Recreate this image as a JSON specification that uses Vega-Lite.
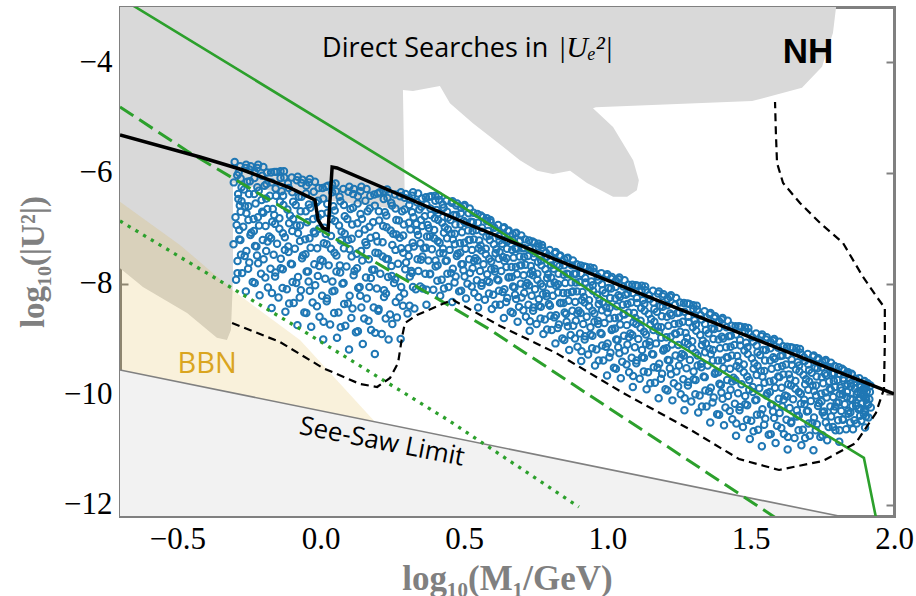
{
"$schema":"https://vega.github.io/schema/vega-lite/v6.json",
"width":774,"height":509,
"autosize":{"type":"none"},
"padding":{"left":120,"top":7,"right":22,"bottom":80},
"background":"white",
"config":{"view":{"stroke":null},
"axis":{"grid":false,"domainColor":"#808080","domainWidth":3,"domainCap":"square","tickColor":"#808080","tickWidth":2,"tickSize":-8,"labelFont":"Liberation Serif","labelFontSize":31,"labelColor":"#000000","titleFont":"Liberation Serif","titleFontSize":32,"titleFontWeight":"bold","titleColor":"#808080","labelOverlap":false,"labelFlush":false,"labelBound":false,"zindex":1}},
"datasets":{
"seesawFill":[{"i":0,"x":-0.7,"y":-9.561},{"i":1,"x":1.808,"y":-12.2},{"i":2,"x":-0.7,"y":-12.2}],
"seesawLine":[{"i":0,"x":-0.7,"y":-9.561},{"i":1,"x":1.85,"y":-12.245}],
"gray":[{"i":0,"x":-0.7,"y":-3.0},{"i":1,"x":1.798,"y":-3.0},{"i":2,"x":1.787,"y":-3.47},{"i":3,"x":1.749,"y":-4.08},{"i":4,"x":1.679,"y":-4.46},{"i":5,"x":1.505,"y":-4.70},{"i":6,"x":0.960,"y":-4.81},{"i":7,"x":0.950,"y":-4.83},{"i":8,"x":1.020,"y":-5.17},{"i":9,"x":1.090,"y":-5.77},{"i":10,"x":1.110,"y":-6.13},{"i":11,"x":1.103,"y":-6.31},{"i":12,"x":1.069,"y":-6.43},{"i":13,"x":1.020,"y":-6.43},{"i":14,"x":0.929,"y":-6.18},{"i":15,"x":0.870,"y":-5.96},{"i":16,"x":0.810,"y":-6.02},{"i":17,"x":0.755,"y":-5.96},{"i":18,"x":0.695,"y":-5.77},{"i":19,"x":0.615,"y":-5.44},{"i":20,"x":0.531,"y":-5.10},{"i":21,"x":0.451,"y":-4.74},{"i":22,"x":0.416,"y":-4.43},{"i":23,"x":0.322,"y":-4.52},{"i":24,"x":0.287,"y":-4.50},{"i":25,"x":0.294,"y":-6.67},{"i":26,"x":-0.072,"y":-6.43},{"i":27,"x":-0.306,"y":-6.18},{"i":28,"x":-0.306,"y":-7.93},{"i":29,"x":-0.313,"y":-8.84},{"i":30,"x":-0.327,"y":-9.02},{"i":31,"x":-0.362,"y":-8.98},{"i":32,"x":-0.466,"y":-8.53},{"i":33,"x":-0.620,"y":-8.06},{"i":34,"x":-0.641,"y":-7.97},{"i":35,"x":-0.7,"y":-7.72}],
"bbn":[{"i":0,"x":-0.7,"y":-6.52},{"i":1,"x":-0.491,"y":-7.30},{"i":2,"x":-0.306,"y":-8.12},{"i":3,"x":-0.072,"y":-9.02},{"i":4,"x":0.19,"y":-10.50},{"i":5,"x":-0.7,"y":-9.561}],
"gsolid":[{"i":0,"x":-0.7,"y":-2.83},{"i":1,"x":0.486,"y":-6.58},{"i":2,"x":0.964,"y":-8.21},{"i":3,"x":1.895,"y":-11.15},{"i":4,"x":1.934,"y":-12.15},{"i":5,"x":1.94,"y":-12.3}],
"gdash":[{"i":0,"x":-0.7,"y":-4.807},{"i":1,"x":-0.466,"y":-5.603},{"i":2,"x":-0.072,"y":-6.813},{"i":3,"x":0.587,"y":-8.820},{"i":4,"x":1.588,"y":-12.236}],
"gdot":[{"i":0,"x":-0.7,"y":-6.868},{"i":1,"x":-0.083,"y":-8.784},{"i":2,"x":0.444,"y":-10.464},{"i":3,"x":0.901,"y":-12.037}],
"bsolid":[{"i":0,"x":-0.7,"y":-5.313},{"i":1,"x":-0.421,"y":-5.711},{"i":2,"x":-0.271,"y":-5.946},{"i":3,"x":-0.107,"y":-6.271},{"i":4,"x":-0.020,"y":-6.488},{"i":5,"x":-0.009,"y":-6.850},{"i":6,"x":0.008,"y":-6.994},{"i":7,"x":0.026,"y":-7.030},{"i":8,"x":0.040,"y":-5.892},{"i":9,"x":0.057,"y":-5.910},{"i":10,"x":0.521,"y":-6.940},{"i":11,"x":1.135,"y":-8.223},{"i":12,"x":2.0,"y":-9.994}],
"bdash":[{"i":0,"x":-0.309,"y":-8.711},{"i":1,"x":-0.142,"y":-9.055},{"i":2,"x":0.008,"y":-9.525},{"i":3,"x":0.137,"y":-9.814},{"i":4,"x":0.197,"y":-9.868},{"i":5,"x":0.242,"y":-9.705},{"i":6,"x":0.270,"y":-9.434},{"i":7,"x":0.284,"y":-8.964},{"i":8,"x":0.294,"y":-8.711},{"i":9,"x":0.336,"y":-8.567},{"i":10,"x":0.441,"y":-8.332},{"i":11,"x":0.462,"y":-8.296},{"i":12,"x":0.626,"y":-8.765},{"i":13,"x":0.821,"y":-9.253},{"i":14,"x":1.055,"y":-9.976},{"i":15,"x":1.285,"y":-10.627},{"i":16,"x":1.459,"y":-11.169},{"i":17,"x":1.599,"y":-11.368},{"i":18,"x":1.752,"y":-11.205},{"i":19,"x":1.867,"y":-10.880},{"i":20,"x":1.937,"y":-10.338},{"i":21,"x":1.965,"y":-9.904},{"i":22,"x":1.968,"y":-9.073},{"i":23,"x":1.968,"y":-8.440},{"i":24,"x":1.940,"y":-8.241},{"i":25,"x":1.892,"y":-7.880},{"i":26,"x":1.822,"y":-7.265},{"i":27,"x":1.742,"y":-6.904},{"i":28,"x":1.672,"y":-6.542},{"i":29,"x":1.613,"y":-6.181},{"i":30,"x":1.592,"y":-5.820},{"i":31,"x":1.588,"y":-5.277},{"i":32,"x":1.585,"y":-4.717}],
"pts":[
{"x":-0.300,"y":-5.80},{"x":-0.286,"y":-5.99},{"x":-0.303,"y":-6.17},{"x":-0.288,"y":-6.38},{"x":-0.282,"y":-6.59},{"x":-0.297,"y":-6.80},{"x":-0.284,"y":-7.03},{"x":-0.304,"y":-7.29},{"x":-0.290,"y":-7.59},{"x":-0.295,"y":-7.93},
{"x":-0.263,"y":-5.91},{"x":-0.279,"y":-6.10},{"x":-0.267,"y":-6.30},{"x":-0.276,"y":-6.51},{"x":-0.259,"y":-6.73},{"x":-0.270,"y":-6.97},{"x":-0.280,"y":-7.21},{"x":-0.265,"y":-7.50},{"x":-0.274,"y":-7.81},{"x":-0.261,"y":-8.14},
{"x":-0.244,"y":-5.88},{"x":-0.230,"y":-5.98},{"x":-0.247,"y":-6.15},{"x":-0.232,"y":-6.38},{"x":-0.252,"y":-6.60},{"x":-0.234,"y":-6.83},{"x":-0.242,"y":-7.08},{"x":-0.229,"y":-7.32},{"x":-0.249,"y":-7.62},{"x":-0.237,"y":-7.97},
{"x":-0.218,"y":-5.85},{"x":-0.204,"y":-6.05},{"x":-0.221,"y":-6.26},{"x":-0.206,"y":-6.49},{"x":-0.200,"y":-6.72},{"x":-0.215,"y":-6.95},{"x":-0.202,"y":-7.21},{"x":-0.222,"y":-7.49},{"x":-0.208,"y":-7.82},{"x":-0.213,"y":-8.21},
{"x":-0.173,"y":-5.99},{"x":-0.189,"y":-6.20},{"x":-0.177,"y":-6.41},{"x":-0.186,"y":-6.65},{"x":-0.169,"y":-6.88},{"x":-0.180,"y":-7.15},{"x":-0.190,"y":-7.41},{"x":-0.175,"y":-7.73},{"x":-0.184,"y":-8.07},{"x":-0.171,"y":-8.44},
{"x":-0.154,"y":-5.98},{"x":-0.140,"y":-6.09},{"x":-0.157,"y":-6.28},{"x":-0.142,"y":-6.52},{"x":-0.162,"y":-6.76},{"x":-0.144,"y":-7.01},{"x":-0.152,"y":-7.28},{"x":-0.139,"y":-7.55},{"x":-0.159,"y":-7.87},{"x":-0.147,"y":-8.25},
{"x":-0.128,"y":-5.97},{"x":-0.114,"y":-6.19},{"x":-0.131,"y":-6.41},{"x":-0.116,"y":-6.66},{"x":-0.110,"y":-6.91},{"x":-0.125,"y":-7.16},{"x":-0.112,"y":-7.43},{"x":-0.132,"y":-7.74},{"x":-0.118,"y":-8.10},{"x":-0.123,"y":-8.51},
{"x":-0.083,"y":-6.13},{"x":-0.099,"y":-6.35},{"x":-0.087,"y":-6.58},{"x":-0.096,"y":-6.83},{"x":-0.079,"y":-7.09},{"x":-0.090,"y":-7.37},{"x":-0.100,"y":-7.65},{"x":-0.085,"y":-7.99},{"x":-0.094,"y":-8.35},{"x":-0.081,"y":-8.75},
{"x":-0.064,"y":-6.12},{"x":-0.050,"y":-6.23},{"x":-0.067,"y":-6.43},{"x":-0.052,"y":-6.69},{"x":-0.072,"y":-6.95},{"x":-0.054,"y":-7.20},{"x":-0.062,"y":-7.49},{"x":-0.049,"y":-7.78},{"x":-0.069,"y":-8.12},{"x":-0.057,"y":-8.52},
{"x":-0.038,"y":-6.11},{"x":-0.024,"y":-6.34},{"x":-0.041,"y":-6.57},{"x":-0.026,"y":-6.83},{"x":-0.020,"y":-7.09},{"x":-0.035,"y":-7.35},{"x":-0.022,"y":-7.65},{"x":-0.042,"y":-7.96},{"x":-0.028,"y":-8.34},{"x":-0.033,"y":-8.78},
{"x":0.007,"y":-6.27},{"x":-0.009,"y":-6.50},{"x":0.003,"y":-6.74},{"x":-0.006,"y":-7.01},{"x":0.011,"y":-7.27},{"x":0.000,"y":-7.57},{"x":-0.010,"y":-7.86},{"x":0.005,"y":-8.22},{"x":-0.004,"y":-8.60},{"x":0.009,"y":-9.01},
{"x":0.026,"y":-6.23},{"x":0.040,"y":-6.35},{"x":0.023,"y":-6.56},{"x":0.038,"y":-6.83},{"x":0.018,"y":-7.10},{"x":0.036,"y":-7.37},{"x":0.028,"y":-7.67},{"x":0.041,"y":-7.96},{"x":0.021,"y":-8.32},{"x":0.033,"y":-8.74},
{"x":0.052,"y":-6.19},{"x":0.066,"y":-6.43},{"x":0.049,"y":-6.68},{"x":0.064,"y":-6.95},{"x":0.070,"y":-7.22},{"x":0.055,"y":-7.49},{"x":0.068,"y":-7.80},{"x":0.048,"y":-8.13},{"x":0.062,"y":-8.52},{"x":0.057,"y":-8.98},
{"x":0.097,"y":-6.34},{"x":0.081,"y":-6.58},{"x":0.093,"y":-6.83},{"x":0.084,"y":-7.10},{"x":0.101,"y":-7.38},{"x":0.090,"y":-7.69},{"x":0.080,"y":-7.99},{"x":0.095,"y":-8.36},{"x":0.086,"y":-8.76},{"x":0.099,"y":-9.19},
{"x":0.116,"y":-6.29},{"x":0.130,"y":-6.42},{"x":0.113,"y":-6.63},{"x":0.128,"y":-6.91},{"x":0.108,"y":-7.19},{"x":0.126,"y":-7.46},{"x":0.118,"y":-7.77},{"x":0.131,"y":-8.08},{"x":0.111,"y":-8.45},{"x":0.123,"y":-8.88},
{"x":0.142,"y":-6.25},{"x":0.156,"y":-6.50},{"x":0.139,"y":-6.74},{"x":0.154,"y":-7.02},{"x":0.160,"y":-7.30},{"x":0.145,"y":-7.58},{"x":0.158,"y":-7.89},{"x":0.138,"y":-8.22},{"x":0.152,"y":-8.63},{"x":0.147,"y":-9.09},
{"x":0.187,"y":-6.39},{"x":0.171,"y":-6.64},{"x":0.183,"y":-6.89},{"x":0.174,"y":-7.17},{"x":0.191,"y":-7.44},{"x":0.180,"y":-7.75},{"x":0.170,"y":-8.06},{"x":0.185,"y":-8.43},{"x":0.176,"y":-8.84},{"x":0.189,"y":-9.27},
{"x":0.206,"y":-6.35},{"x":0.220,"y":-6.47},{"x":0.203,"y":-6.69},{"x":0.218,"y":-6.96},{"x":0.198,"y":-7.24},{"x":0.216,"y":-7.51},{"x":0.208,"y":-7.82},{"x":0.221,"y":-8.12},{"x":0.201,"y":-8.49},{"x":0.213,"y":-8.91},
{"x":0.232,"y":-6.30},{"x":0.246,"y":-6.54},{"x":0.229,"y":-6.77},{"x":0.244,"y":-7.04},{"x":0.250,"y":-7.30},{"x":0.235,"y":-7.56},{"x":0.248,"y":-7.86},{"x":0.228,"y":-8.18},{"x":0.242,"y":-8.56},{"x":0.237,"y":-9.01},
{"x":0.277,"y":-6.42},{"x":0.261,"y":-6.64},{"x":0.273,"y":-6.86},{"x":0.264,"y":-7.11},{"x":0.281,"y":-7.36},{"x":0.270,"y":-7.64},{"x":0.260,"y":-7.92},{"x":0.275,"y":-8.25},{"x":0.266,"y":-8.61},{"x":0.279,"y":-9.00},
{"x":0.296,"y":-6.38},{"x":0.310,"y":-6.48},{"x":0.293,"y":-6.66},{"x":0.308,"y":-6.90},{"x":0.288,"y":-7.13},{"x":0.306,"y":-7.36},{"x":0.298,"y":-7.62},{"x":0.311,"y":-7.87},{"x":0.291,"y":-8.18},{"x":0.303,"y":-8.54},
{"x":0.322,"y":-6.35},{"x":0.336,"y":-6.53},{"x":0.319,"y":-6.71},{"x":0.334,"y":-6.92},{"x":0.340,"y":-7.12},{"x":0.325,"y":-7.33},{"x":0.338,"y":-7.56},{"x":0.318,"y":-7.81},{"x":0.332,"y":-8.10},{"x":0.327,"y":-8.45},
{"x":0.367,"y":-6.44},{"x":0.351,"y":-6.61},{"x":0.363,"y":-6.78},{"x":0.354,"y":-6.96},{"x":0.371,"y":-7.15},{"x":0.360,"y":-7.36},{"x":0.350,"y":-7.57},{"x":0.365,"y":-7.82},{"x":0.356,"y":-8.09},{"x":0.369,"y":-8.38},
{"x":0.386,"y":-6.42},{"x":0.400,"y":-6.50},{"x":0.383,"y":-6.64},{"x":0.398,"y":-6.82},{"x":0.378,"y":-7.00},{"x":0.396,"y":-7.18},{"x":0.388,"y":-7.38},{"x":0.401,"y":-7.58},{"x":0.381,"y":-7.83},{"x":0.393,"y":-8.11},
{"x":0.412,"y":-6.41},{"x":0.426,"y":-6.57},{"x":0.409,"y":-6.73},{"x":0.424,"y":-6.90},{"x":0.430,"y":-7.08},{"x":0.415,"y":-7.26},{"x":0.428,"y":-7.45},{"x":0.408,"y":-7.67},{"x":0.422,"y":-7.93},{"x":0.417,"y":-8.22},
{"x":0.457,"y":-6.54},{"x":0.441,"y":-6.70},{"x":0.453,"y":-6.85},{"x":0.444,"y":-7.02},{"x":0.461,"y":-7.20},{"x":0.450,"y":-7.39},{"x":0.440,"y":-7.58},{"x":0.455,"y":-7.81},{"x":0.446,"y":-8.06},{"x":0.459,"y":-8.33},
{"x":0.476,"y":-6.55},{"x":0.490,"y":-6.63},{"x":0.473,"y":-6.76},{"x":0.488,"y":-6.93},{"x":0.468,"y":-7.10},{"x":0.486,"y":-7.27},{"x":0.478,"y":-7.46},{"x":0.491,"y":-7.65},{"x":0.471,"y":-7.87},{"x":0.483,"y":-8.14},
{"x":0.502,"y":-6.58},{"x":0.516,"y":-6.73},{"x":0.499,"y":-6.87},{"x":0.514,"y":-7.04},{"x":0.520,"y":-7.21},{"x":0.505,"y":-7.37},{"x":0.518,"y":-7.56},{"x":0.498,"y":-7.76},{"x":0.512,"y":-8.00},{"x":0.507,"y":-8.27},
{"x":0.547,"y":-6.74},{"x":0.531,"y":-6.89},{"x":0.543,"y":-7.03},{"x":0.534,"y":-7.20},{"x":0.551,"y":-7.36},{"x":0.540,"y":-7.54},{"x":0.530,"y":-7.72},{"x":0.545,"y":-7.94},{"x":0.536,"y":-8.17},{"x":0.549,"y":-8.43},
{"x":0.566,"y":-6.80},{"x":0.580,"y":-6.87},{"x":0.563,"y":-6.99},{"x":0.578,"y":-7.15},{"x":0.558,"y":-7.31},{"x":0.576,"y":-7.47},{"x":0.568,"y":-7.65},{"x":0.581,"y":-7.83},{"x":0.561,"y":-8.04},{"x":0.573,"y":-8.29},
{"x":0.592,"y":-6.85},{"x":0.606,"y":-6.99},{"x":0.589,"y":-7.13},{"x":0.604,"y":-7.29},{"x":0.610,"y":-7.45},{"x":0.595,"y":-7.60},{"x":0.608,"y":-7.78},{"x":0.588,"y":-7.97},{"x":0.602,"y":-8.20},{"x":0.597,"y":-8.46},
{"x":0.637,"y":-7.00},{"x":0.621,"y":-7.14},{"x":0.633,"y":-7.28},{"x":0.624,"y":-7.43},{"x":0.641,"y":-7.59},{"x":0.630,"y":-7.77},{"x":0.620,"y":-7.94},{"x":0.635,"y":-8.15},{"x":0.626,"y":-8.38},{"x":0.639,"y":-8.62},
{"x":0.656,"y":-7.04},{"x":0.670,"y":-7.11},{"x":0.653,"y":-7.23},{"x":0.668,"y":-7.39},{"x":0.648,"y":-7.54},{"x":0.666,"y":-7.70},{"x":0.658,"y":-7.88},{"x":0.671,"y":-8.05},{"x":0.651,"y":-8.26},{"x":0.663,"y":-8.51},
{"x":0.682,"y":-7.08},{"x":0.696,"y":-7.22},{"x":0.679,"y":-7.36},{"x":0.694,"y":-7.51},{"x":0.700,"y":-7.67},{"x":0.685,"y":-7.83},{"x":0.698,"y":-8.00},{"x":0.678,"y":-8.20},{"x":0.692,"y":-8.42},{"x":0.687,"y":-8.69},
{"x":0.727,"y":-7.22},{"x":0.711,"y":-7.36},{"x":0.723,"y":-7.50},{"x":0.714,"y":-7.66},{"x":0.731,"y":-7.82},{"x":0.720,"y":-7.99},{"x":0.710,"y":-8.17},{"x":0.725,"y":-8.38},{"x":0.716,"y":-8.60},{"x":0.729,"y":-8.85},
{"x":0.746,"y":-7.26},{"x":0.760,"y":-7.33},{"x":0.743,"y":-7.45},{"x":0.758,"y":-7.61},{"x":0.738,"y":-7.77},{"x":0.756,"y":-7.93},{"x":0.748,"y":-8.10},{"x":0.761,"y":-8.28},{"x":0.741,"y":-8.49},{"x":0.753,"y":-8.73},
{"x":0.772,"y":-7.30},{"x":0.786,"y":-7.44},{"x":0.769,"y":-7.58},{"x":0.784,"y":-7.74},{"x":0.790,"y":-7.90},{"x":0.775,"y":-8.05},{"x":0.788,"y":-8.23},{"x":0.768,"y":-8.42},{"x":0.782,"y":-8.65},{"x":0.777,"y":-8.91},
{"x":0.817,"y":-7.45},{"x":0.801,"y":-7.59},{"x":0.813,"y":-7.73},{"x":0.804,"y":-7.89},{"x":0.821,"y":-8.04},{"x":0.810,"y":-8.22},{"x":0.800,"y":-8.40},{"x":0.815,"y":-8.61},{"x":0.806,"y":-8.84},{"x":0.819,"y":-9.08},
{"x":0.836,"y":-7.49},{"x":0.850,"y":-7.56},{"x":0.833,"y":-7.68},{"x":0.848,"y":-7.84},{"x":0.828,"y":-8.01},{"x":0.846,"y":-8.17},{"x":0.838,"y":-8.35},{"x":0.851,"y":-8.52},{"x":0.831,"y":-8.74},{"x":0.843,"y":-8.99},
{"x":0.862,"y":-7.53},{"x":0.876,"y":-7.67},{"x":0.859,"y":-7.82},{"x":0.874,"y":-7.98},{"x":0.880,"y":-8.14},{"x":0.865,"y":-8.31},{"x":0.878,"y":-8.49},{"x":0.858,"y":-8.69},{"x":0.872,"y":-8.93},{"x":0.867,"y":-9.20},
{"x":0.907,"y":-7.67},{"x":0.891,"y":-7.82},{"x":0.903,"y":-7.97},{"x":0.894,"y":-8.14},{"x":0.911,"y":-8.30},{"x":0.900,"y":-8.49},{"x":0.890,"y":-8.67},{"x":0.905,"y":-8.90},{"x":0.896,"y":-9.14},{"x":0.909,"y":-9.40},
{"x":0.926,"y":-7.70},{"x":0.940,"y":-7.77},{"x":0.923,"y":-7.90},{"x":0.938,"y":-8.07},{"x":0.918,"y":-8.24},{"x":0.936,"y":-8.41},{"x":0.928,"y":-8.60},{"x":0.941,"y":-8.79},{"x":0.921,"y":-9.01},{"x":0.933,"y":-9.28},
{"x":0.952,"y":-7.72},{"x":0.966,"y":-7.87},{"x":0.949,"y":-8.03},{"x":0.964,"y":-8.20},{"x":0.970,"y":-8.37},{"x":0.955,"y":-8.54},{"x":0.968,"y":-8.73},{"x":0.948,"y":-8.94},{"x":0.962,"y":-9.19},{"x":0.957,"y":-9.48},
{"x":0.997,"y":-7.86},{"x":0.981,"y":-8.01},{"x":0.993,"y":-8.17},{"x":0.984,"y":-8.34},{"x":1.001,"y":-8.52},{"x":0.990,"y":-8.71},{"x":0.980,"y":-8.91},{"x":0.995,"y":-9.14},{"x":0.986,"y":-9.39},{"x":0.999,"y":-9.66},
{"x":1.016,"y":-7.88},{"x":1.030,"y":-7.95},{"x":1.013,"y":-8.09},{"x":1.028,"y":-8.27},{"x":1.008,"y":-8.44},{"x":1.026,"y":-8.62},{"x":1.018,"y":-8.82},{"x":1.031,"y":-9.01},{"x":1.011,"y":-9.25},{"x":1.023,"y":-9.52},
{"x":1.042,"y":-7.89},{"x":1.056,"y":-8.05},{"x":1.039,"y":-8.21},{"x":1.054,"y":-8.38},{"x":1.060,"y":-8.56},{"x":1.045,"y":-8.74},{"x":1.058,"y":-8.94},{"x":1.038,"y":-9.15},{"x":1.052,"y":-9.41},{"x":1.047,"y":-9.71},
{"x":1.087,"y":-8.02},{"x":1.071,"y":-8.18},{"x":1.083,"y":-8.34},{"x":1.074,"y":-8.52},{"x":1.091,"y":-8.70},{"x":1.080,"y":-8.90},{"x":1.070,"y":-9.10},{"x":1.085,"y":-9.34},{"x":1.076,"y":-9.60},{"x":1.089,"y":-9.87},
{"x":1.106,"y":-8.04},{"x":1.120,"y":-8.12},{"x":1.103,"y":-8.26},{"x":1.118,"y":-8.44},{"x":1.098,"y":-8.62},{"x":1.116,"y":-8.80},{"x":1.108,"y":-9.00},{"x":1.121,"y":-9.20},{"x":1.101,"y":-9.44},{"x":1.113,"y":-9.72},
{"x":1.132,"y":-8.05},{"x":1.146,"y":-8.21},{"x":1.129,"y":-8.37},{"x":1.144,"y":-8.55},{"x":1.150,"y":-8.74},{"x":1.135,"y":-8.92},{"x":1.148,"y":-9.12},{"x":1.128,"y":-9.34},{"x":1.142,"y":-9.60},{"x":1.137,"y":-9.91},
{"x":1.177,"y":-8.18},{"x":1.161,"y":-8.34},{"x":1.173,"y":-8.51},{"x":1.164,"y":-8.69},{"x":1.181,"y":-8.87},{"x":1.170,"y":-9.08},{"x":1.160,"y":-9.28},{"x":1.175,"y":-9.52},{"x":1.166,"y":-9.79},{"x":1.179,"y":-10.07},
{"x":1.196,"y":-8.19},{"x":1.210,"y":-8.27},{"x":1.193,"y":-8.42},{"x":1.208,"y":-8.60},{"x":1.188,"y":-8.79},{"x":1.206,"y":-8.97},{"x":1.198,"y":-9.18},{"x":1.211,"y":-9.38},{"x":1.191,"y":-9.63},{"x":1.203,"y":-9.91},
{"x":1.222,"y":-8.21},{"x":1.236,"y":-8.38},{"x":1.219,"y":-8.54},{"x":1.234,"y":-8.73},{"x":1.240,"y":-8.91},{"x":1.225,"y":-9.10},{"x":1.238,"y":-9.30},{"x":1.218,"y":-9.53},{"x":1.232,"y":-9.80},{"x":1.227,"y":-10.11},
{"x":1.267,"y":-8.35},{"x":1.251,"y":-8.52},{"x":1.263,"y":-8.69},{"x":1.254,"y":-8.87},{"x":1.271,"y":-9.06},{"x":1.260,"y":-9.27},{"x":1.250,"y":-9.48},{"x":1.265,"y":-9.73},{"x":1.256,"y":-10.00},{"x":1.269,"y":-10.29},
{"x":1.286,"y":-8.37},{"x":1.300,"y":-8.46},{"x":1.283,"y":-8.60},{"x":1.298,"y":-8.79},{"x":1.278,"y":-8.98},{"x":1.296,"y":-9.17},{"x":1.288,"y":-9.38},{"x":1.301,"y":-9.59},{"x":1.281,"y":-9.84},{"x":1.293,"y":-10.13},
{"x":1.312,"y":-8.40},{"x":1.326,"y":-8.57},{"x":1.309,"y":-8.74},{"x":1.324,"y":-8.93},{"x":1.330,"y":-9.11},{"x":1.315,"y":-9.30},{"x":1.328,"y":-9.51},{"x":1.308,"y":-9.74},{"x":1.322,"y":-10.02},{"x":1.317,"y":-10.33},
{"x":1.357,"y":-8.56},{"x":1.341,"y":-8.73},{"x":1.353,"y":-8.90},{"x":1.344,"y":-9.08},{"x":1.361,"y":-9.27},{"x":1.350,"y":-9.48},{"x":1.340,"y":-9.69},{"x":1.355,"y":-9.95},{"x":1.346,"y":-10.22},{"x":1.359,"y":-10.51},
{"x":1.376,"y":-8.59},{"x":1.390,"y":-8.68},{"x":1.373,"y":-8.82},{"x":1.388,"y":-9.01},{"x":1.368,"y":-9.20},{"x":1.386,"y":-9.39},{"x":1.378,"y":-9.60},{"x":1.391,"y":-9.81},{"x":1.371,"y":-10.06},{"x":1.383,"y":-10.36},
{"x":1.402,"y":-8.62},{"x":1.416,"y":-8.79},{"x":1.399,"y":-8.96},{"x":1.414,"y":-9.15},{"x":1.420,"y":-9.34},{"x":1.405,"y":-9.53},{"x":1.418,"y":-9.74},{"x":1.398,"y":-9.97},{"x":1.412,"y":-10.24},{"x":1.407,"y":-10.56},
{"x":1.447,"y":-8.77},{"x":1.431,"y":-8.94},{"x":1.443,"y":-9.11},{"x":1.434,"y":-9.30},{"x":1.451,"y":-9.49},{"x":1.440,"y":-9.70},{"x":1.430,"y":-9.92},{"x":1.445,"y":-10.17},{"x":1.436,"y":-10.45},{"x":1.449,"y":-10.75},
{"x":1.466,"y":-8.78},{"x":1.480,"y":-8.87},{"x":1.463,"y":-9.02},{"x":1.478,"y":-9.21},{"x":1.458,"y":-9.41},{"x":1.476,"y":-9.60},{"x":1.468,"y":-9.82},{"x":1.481,"y":-10.03},{"x":1.461,"y":-10.29},{"x":1.473,"y":-10.59},
{"x":1.492,"y":-8.80},{"x":1.506,"y":-8.97},{"x":1.489,"y":-9.15},{"x":1.504,"y":-9.35},{"x":1.510,"y":-9.54},{"x":1.495,"y":-9.74},{"x":1.508,"y":-9.96},{"x":1.488,"y":-10.20},{"x":1.502,"y":-10.48},{"x":1.497,"y":-10.81},
{"x":1.537,"y":-8.95},{"x":1.521,"y":-9.12},{"x":1.533,"y":-9.29},{"x":1.524,"y":-9.49},{"x":1.541,"y":-9.68},{"x":1.530,"y":-9.89},{"x":1.520,"y":-10.10},{"x":1.535,"y":-10.36},{"x":1.526,"y":-10.64},{"x":1.539,"y":-10.94},
{"x":1.556,"y":-8.97},{"x":1.570,"y":-9.06},{"x":1.553,"y":-9.20},{"x":1.568,"y":-9.39},{"x":1.548,"y":-9.58},{"x":1.566,"y":-9.77},{"x":1.558,"y":-9.98},{"x":1.571,"y":-10.19},{"x":1.551,"y":-10.44},{"x":1.563,"y":-10.73},
{"x":1.582,"y":-9.00},{"x":1.596,"y":-9.16},{"x":1.579,"y":-9.33},{"x":1.594,"y":-9.51},{"x":1.600,"y":-9.69},{"x":1.585,"y":-9.88},{"x":1.598,"y":-10.08},{"x":1.578,"y":-10.31},{"x":1.592,"y":-10.57},{"x":1.587,"y":-10.88},
{"x":1.627,"y":-9.14},{"x":1.611,"y":-9.30},{"x":1.623,"y":-9.46},{"x":1.614,"y":-9.64},{"x":1.631,"y":-9.82},{"x":1.620,"y":-10.02},{"x":1.610,"y":-10.22},{"x":1.625,"y":-10.46},{"x":1.616,"y":-10.72},{"x":1.629,"y":-11.00},
{"x":1.646,"y":-9.16},{"x":1.660,"y":-9.24},{"x":1.643,"y":-9.37},{"x":1.658,"y":-9.55},{"x":1.638,"y":-9.72},{"x":1.656,"y":-9.90},{"x":1.648,"y":-10.09},{"x":1.661,"y":-10.29},{"x":1.641,"y":-10.52},{"x":1.653,"y":-10.79},
{"x":1.672,"y":-9.18},{"x":1.686,"y":-9.33},{"x":1.669,"y":-9.48},{"x":1.684,"y":-9.65},{"x":1.690,"y":-9.82},{"x":1.675,"y":-9.99},{"x":1.688,"y":-10.18},{"x":1.668,"y":-10.39},{"x":1.682,"y":-10.64},{"x":1.677,"y":-10.92},
{"x":1.717,"y":-9.32},{"x":1.701,"y":-9.46},{"x":1.713,"y":-9.61},{"x":1.704,"y":-9.77},{"x":1.721,"y":-9.94},{"x":1.710,"y":-10.12},{"x":1.700,"y":-10.30},{"x":1.715,"y":-10.52},{"x":1.706,"y":-10.75},{"x":1.719,"y":-11.01},
{"x":1.736,"y":-9.35},{"x":1.750,"y":-9.41},{"x":1.733,"y":-9.53},{"x":1.748,"y":-9.69},{"x":1.728,"y":-9.84},{"x":1.746,"y":-9.99},{"x":1.738,"y":-10.16},{"x":1.751,"y":-10.33},{"x":1.731,"y":-10.54},{"x":1.743,"y":-10.77},
{"x":1.762,"y":-9.38},{"x":1.776,"y":-9.51},{"x":1.759,"y":-9.63},{"x":1.774,"y":-9.77},{"x":1.780,"y":-9.92},{"x":1.765,"y":-10.06},{"x":1.778,"y":-10.22},{"x":1.758,"y":-10.39},{"x":1.772,"y":-10.59},{"x":1.767,"y":-10.83},
{"x":1.807,"y":-9.51},{"x":1.791,"y":-9.62},{"x":1.803,"y":-9.74},{"x":1.794,"y":-9.87},{"x":1.811,"y":-10.00},{"x":1.800,"y":-10.15},{"x":1.790,"y":-10.29},{"x":1.805,"y":-10.47},{"x":1.796,"y":-10.65},{"x":1.809,"y":-10.86},
{"x":1.826,"y":-9.57},{"x":1.840,"y":-9.62},{"x":1.823,"y":-9.71},{"x":1.838,"y":-9.82},{"x":1.818,"y":-9.93},{"x":1.836,"y":-10.05},{"x":1.828,"y":-10.18},{"x":1.841,"y":-10.30},{"x":1.821,"y":-10.45},{"x":1.833,"y":-10.63},
{"x":1.852,"y":-9.63},{"x":1.866,"y":-9.72},{"x":1.849,"y":-9.80},{"x":1.864,"y":-9.90},{"x":1.870,"y":-10.00},{"x":1.855,"y":-10.10},{"x":1.868,"y":-10.21},{"x":1.848,"y":-10.33},{"x":1.862,"y":-10.47},{"x":1.857,"y":-10.63},
{"x":1.897,"y":-9.76},{"x":1.881,"y":-9.83},{"x":1.893,"y":-9.90},{"x":1.884,"y":-9.98},{"x":1.901,"y":-10.07},{"x":1.890,"y":-10.16},{"x":1.880,"y":-10.25},{"x":1.895,"y":-10.36},{"x":1.886,"y":-10.48},{"x":1.899,"y":-10.60},
{"x":1.904,"y":-9.82},{"x":1.918,"y":-9.84},{"x":1.901,"y":-9.89},{"x":1.916,"y":-9.96},{"x":1.896,"y":-10.03},{"x":1.914,"y":-10.09},{"x":1.906,"y":-10.16},{"x":1.919,"y":-10.24},{"x":1.899,"y":-10.32},{"x":1.911,"y":-10.42},
{"x":-0.281,"y":-5.88},{"x":-0.291,"y":-6.04},{"x":-0.276,"y":-6.26},{"x":-0.287,"y":-6.47},{"x":-0.279,"y":-6.70},{"x":-0.293,"y":-6.94},{"x":-0.284,"y":-7.20},{"x":-0.278,"y":-7.48},{"x":-0.290,"y":-7.81},
{"x":-0.260,"y":-5.85},{"x":-0.247,"y":-5.94},{"x":-0.256,"y":-6.16},{"x":-0.250,"y":-6.38},{"x":-0.264,"y":-6.60},{"x":-0.252,"y":-6.85},{"x":-0.245,"y":-7.12},{"x":-0.259,"y":-7.41},{"x":-0.253,"y":-7.73},
{"x":-0.221,"y":-5.91},{"x":-0.231,"y":-6.09},{"x":-0.216,"y":-6.32},{"x":-0.227,"y":-6.55},{"x":-0.219,"y":-6.80},{"x":-0.233,"y":-7.05},{"x":-0.224,"y":-7.33},{"x":-0.218,"y":-7.63},{"x":-0.230,"y":-7.99},
{"x":-0.200,"y":-5.89},{"x":-0.187,"y":-5.99},{"x":-0.196,"y":-6.23},{"x":-0.190,"y":-6.46},{"x":-0.204,"y":-6.70},{"x":-0.192,"y":-6.96},{"x":-0.185,"y":-7.24},{"x":-0.199,"y":-7.56},{"x":-0.193,"y":-7.89},
{"x":-0.161,"y":-5.98},{"x":-0.171,"y":-6.17},{"x":-0.156,"y":-6.41},{"x":-0.167,"y":-6.65},{"x":-0.159,"y":-6.92},{"x":-0.173,"y":-7.18},{"x":-0.164,"y":-7.48},{"x":-0.158,"y":-7.80},{"x":-0.170,"y":-8.17},
{"x":-0.140,"y":-5.97},{"x":-0.127,"y":-6.08},{"x":-0.136,"y":-6.33},{"x":-0.130,"y":-6.58},{"x":-0.144,"y":-6.82},{"x":-0.132,"y":-7.09},{"x":-0.125,"y":-7.39},{"x":-0.139,"y":-7.72},{"x":-0.133,"y":-8.08},
{"x":-0.101,"y":-6.08},{"x":-0.111,"y":-6.27},{"x":-0.096,"y":-6.52},{"x":-0.107,"y":-6.77},{"x":-0.099,"y":-7.05},{"x":-0.113,"y":-7.33},{"x":-0.104,"y":-7.64},{"x":-0.098,"y":-7.97},{"x":-0.110,"y":-8.36},
{"x":-0.080,"y":-6.07},{"x":-0.067,"y":-6.18},{"x":-0.076,"y":-6.43},{"x":-0.070,"y":-6.69},{"x":-0.084,"y":-6.95},{"x":-0.072,"y":-7.23},{"x":-0.065,"y":-7.54},{"x":-0.079,"y":-7.88},{"x":-0.073,"y":-8.25},
{"x":-0.041,"y":-6.17},{"x":-0.051,"y":-6.37},{"x":-0.036,"y":-6.63},{"x":-0.047,"y":-6.89},{"x":-0.039,"y":-7.18},{"x":-0.053,"y":-7.47},{"x":-0.044,"y":-7.78},{"x":-0.038,"y":-8.13},{"x":-0.050,"y":-8.53},
{"x":-0.020,"y":-6.16},{"x":-0.007,"y":-6.27},{"x":-0.016,"y":-6.54},{"x":-0.010,"y":-6.80},{"x":-0.024,"y":-7.06},{"x":-0.012,"y":-7.36},{"x":-0.005,"y":-7.68},{"x":-0.019,"y":-8.03},{"x":-0.013,"y":-8.41},
{"x":0.019,"y":-6.25},{"x":0.009,"y":-6.46},{"x":0.024,"y":-6.72},{"x":0.013,"y":-6.99},{"x":0.021,"y":-7.29},{"x":0.007,"y":-7.59},{"x":0.016,"y":-7.91},{"x":0.022,"y":-8.27},{"x":0.010,"y":-8.69},
{"x":0.040,"y":-6.21},{"x":0.053,"y":-6.33},{"x":0.044,"y":-6.60},{"x":0.050,"y":-6.87},{"x":0.036,"y":-7.14},{"x":0.048,"y":-7.44},{"x":0.055,"y":-7.78},{"x":0.041,"y":-8.14},{"x":0.047,"y":-8.53},
{"x":0.079,"y":-6.29},{"x":0.069,"y":-6.51},{"x":0.084,"y":-6.78},{"x":0.073,"y":-7.06},{"x":0.081,"y":-7.36},{"x":0.067,"y":-7.67},{"x":0.076,"y":-8.00},{"x":0.082,"y":-8.37},{"x":0.070,"y":-8.79},
{"x":0.100,"y":-6.25},{"x":0.113,"y":-6.38},{"x":0.104,"y":-6.65},{"x":0.110,"y":-6.93},{"x":0.096,"y":-7.21},{"x":0.108,"y":-7.51},{"x":0.115,"y":-7.85},{"x":0.101,"y":-8.22},{"x":0.107,"y":-8.62},
{"x":0.139,"y":-6.33},{"x":0.129,"y":-6.55},{"x":0.144,"y":-6.83},{"x":0.133,"y":-7.10},{"x":0.141,"y":-7.41},{"x":0.127,"y":-7.72},{"x":0.136,"y":-8.06},{"x":0.142,"y":-8.43},{"x":0.130,"y":-8.86},
{"x":0.160,"y":-6.29},{"x":0.173,"y":-6.41},{"x":0.164,"y":-6.69},{"x":0.170,"y":-6.97},{"x":0.156,"y":-7.25},{"x":0.168,"y":-7.56},{"x":0.175,"y":-7.90},{"x":0.161,"y":-8.27},{"x":0.167,"y":-8.67},
{"x":0.199,"y":-6.37},{"x":0.189,"y":-6.59},{"x":0.204,"y":-6.86},{"x":0.193,"y":-7.14},{"x":0.201,"y":-7.45},{"x":0.187,"y":-7.75},{"x":0.196,"y":-8.09},{"x":0.202,"y":-8.46},{"x":0.190,"y":-8.89},
{"x":0.220,"y":-6.33},{"x":0.233,"y":-6.45},{"x":0.224,"y":-6.71},{"x":0.230,"y":-6.98},{"x":0.216,"y":-7.25},{"x":0.228,"y":-7.55},{"x":0.235,"y":-7.88},{"x":0.221,"y":-8.24},{"x":0.227,"y":-8.63},
{"x":0.259,"y":-6.39},{"x":0.249,"y":-6.59},{"x":0.264,"y":-6.85},{"x":0.253,"y":-7.10},{"x":0.261,"y":-7.39},{"x":0.247,"y":-7.68},{"x":0.256,"y":-7.99},{"x":0.262,"y":-8.33},{"x":0.250,"y":-8.73},
{"x":0.280,"y":-6.35},{"x":0.293,"y":-6.45},{"x":0.284,"y":-6.69},{"x":0.290,"y":-6.93},{"x":0.276,"y":-7.17},{"x":0.288,"y":-7.44},{"x":0.295,"y":-7.74},{"x":0.281,"y":-8.06},{"x":0.287,"y":-8.40},
{"x":0.319,"y":-6.41},{"x":0.309,"y":-6.58},{"x":0.324,"y":-6.80},{"x":0.313,"y":-7.02},{"x":0.321,"y":-7.26},{"x":0.307,"y":-7.50},{"x":0.316,"y":-7.77},{"x":0.322,"y":-8.06},{"x":0.310,"y":-8.40},
{"x":0.340,"y":-6.37},{"x":0.353,"y":-6.46},{"x":0.344,"y":-6.66},{"x":0.350,"y":-6.85},{"x":0.336,"y":-7.05},{"x":0.348,"y":-7.27},{"x":0.355,"y":-7.51},{"x":0.341,"y":-7.77},{"x":0.347,"y":-8.05},
{"x":0.379,"y":-6.43},{"x":0.369,"y":-6.57},{"x":0.384,"y":-6.76},{"x":0.373,"y":-6.94},{"x":0.381,"y":-7.15},{"x":0.367,"y":-7.35},{"x":0.376,"y":-7.58},{"x":0.382,"y":-7.82},{"x":0.370,"y":-8.11},
{"x":0.400,"y":-6.41},{"x":0.413,"y":-6.49},{"x":0.404,"y":-6.67},{"x":0.410,"y":-6.85},{"x":0.396,"y":-7.03},{"x":0.408,"y":-7.23},{"x":0.415,"y":-7.45},{"x":0.401,"y":-7.69},{"x":0.407,"y":-7.95},
{"x":0.439,"y":-6.50},{"x":0.429,"y":-6.63},{"x":0.444,"y":-6.81},{"x":0.433,"y":-6.98},{"x":0.441,"y":-7.18},{"x":0.427,"y":-7.37},{"x":0.436,"y":-7.59},{"x":0.442,"y":-7.82},{"x":0.430,"y":-8.09},
{"x":0.460,"y":-6.51},{"x":0.473,"y":-6.59},{"x":0.464,"y":-6.76},{"x":0.470,"y":-6.93},{"x":0.456,"y":-7.10},{"x":0.468,"y":-7.29},{"x":0.475,"y":-7.50},{"x":0.461,"y":-7.73},{"x":0.467,"y":-7.98},
{"x":0.499,"y":-6.60},{"x":0.489,"y":-6.73},{"x":0.504,"y":-6.90},{"x":0.493,"y":-7.07},{"x":0.501,"y":-7.26},{"x":0.487,"y":-7.44},{"x":0.496,"y":-7.65},{"x":0.502,"y":-7.87},{"x":0.490,"y":-8.13},
{"x":0.520,"y":-6.64},{"x":0.533,"y":-6.72},{"x":0.524,"y":-6.88},{"x":0.530,"y":-7.05},{"x":0.516,"y":-7.21},{"x":0.528,"y":-7.39},{"x":0.535,"y":-7.59},{"x":0.521,"y":-7.81},{"x":0.527,"y":-8.05},
{"x":0.559,"y":-6.77},{"x":0.549,"y":-6.90},{"x":0.564,"y":-7.06},{"x":0.553,"y":-7.22},{"x":0.561,"y":-7.40},{"x":0.547,"y":-7.58},{"x":0.556,"y":-7.77},{"x":0.562,"y":-7.99},{"x":0.550,"y":-8.24},
{"x":0.580,"y":-6.82},{"x":0.593,"y":-6.89},{"x":0.584,"y":-7.05},{"x":0.590,"y":-7.21},{"x":0.576,"y":-7.37},{"x":0.588,"y":-7.55},{"x":0.595,"y":-7.74},{"x":0.581,"y":-7.95},{"x":0.587,"y":-8.18},
{"x":0.619,"y":-6.94},{"x":0.609,"y":-7.06},{"x":0.624,"y":-7.22},{"x":0.613,"y":-7.38},{"x":0.621,"y":-7.55},{"x":0.607,"y":-7.73},{"x":0.616,"y":-7.92},{"x":0.622,"y":-8.13},{"x":0.610,"y":-8.38},
{"x":0.640,"y":-6.98},{"x":0.653,"y":-7.05},{"x":0.644,"y":-7.21},{"x":0.650,"y":-7.37},{"x":0.636,"y":-7.52},{"x":0.648,"y":-7.70},{"x":0.655,"y":-7.89},{"x":0.641,"y":-8.10},{"x":0.647,"y":-8.33},
{"x":0.679,"y":-7.09},{"x":0.669,"y":-7.21},{"x":0.684,"y":-7.37},{"x":0.673,"y":-7.53},{"x":0.681,"y":-7.70},{"x":0.667,"y":-7.88},{"x":0.676,"y":-8.07},{"x":0.682,"y":-8.28},{"x":0.670,"y":-8.53},
{"x":0.700,"y":-7.13},{"x":0.713,"y":-7.20},{"x":0.704,"y":-7.36},{"x":0.710,"y":-7.52},{"x":0.696,"y":-7.67},{"x":0.708,"y":-7.85},{"x":0.715,"y":-8.04},{"x":0.701,"y":-8.25},{"x":0.707,"y":-8.48},
{"x":0.739,"y":-7.24},{"x":0.729,"y":-7.36},{"x":0.744,"y":-7.52},{"x":0.733,"y":-7.68},{"x":0.741,"y":-7.85},{"x":0.727,"y":-8.03},{"x":0.736,"y":-8.22},{"x":0.742,"y":-8.43},{"x":0.730,"y":-8.68},
{"x":0.760,"y":-7.28},{"x":0.773,"y":-7.35},{"x":0.764,"y":-7.51},{"x":0.770,"y":-7.67},{"x":0.756,"y":-7.82},{"x":0.768,"y":-8.00},{"x":0.775,"y":-8.19},{"x":0.761,"y":-8.40},{"x":0.767,"y":-8.63},
{"x":0.799,"y":-7.39},{"x":0.789,"y":-7.51},{"x":0.804,"y":-7.67},{"x":0.793,"y":-7.83},{"x":0.801,"y":-8.00},{"x":0.787,"y":-8.18},{"x":0.796,"y":-8.37},{"x":0.802,"y":-8.58},{"x":0.790,"y":-8.83},
{"x":0.820,"y":-7.43},{"x":0.833,"y":-7.50},{"x":0.824,"y":-7.66},{"x":0.830,"y":-7.82},{"x":0.816,"y":-7.98},{"x":0.828,"y":-8.16},{"x":0.835,"y":-8.35},{"x":0.821,"y":-8.57},{"x":0.827,"y":-8.80},
{"x":0.859,"y":-7.54},{"x":0.849,"y":-7.67},{"x":0.864,"y":-7.83},{"x":0.853,"y":-7.99},{"x":0.861,"y":-8.17},{"x":0.847,"y":-8.35},{"x":0.856,"y":-8.55},{"x":0.862,"y":-8.77},{"x":0.850,"y":-9.02},
{"x":0.880,"y":-7.58},{"x":0.893,"y":-7.65},{"x":0.884,"y":-7.82},{"x":0.890,"y":-7.98},{"x":0.876,"y":-8.15},{"x":0.888,"y":-8.33},{"x":0.895,"y":-8.54},{"x":0.881,"y":-8.76},{"x":0.887,"y":-8.99},
{"x":0.919,"y":-7.69},{"x":0.909,"y":-7.82},{"x":0.924,"y":-7.98},{"x":0.913,"y":-8.15},{"x":0.921,"y":-8.34},{"x":0.907,"y":-8.53},{"x":0.916,"y":-8.73},{"x":0.922,"y":-8.95},{"x":0.910,"y":-9.22},
{"x":0.940,"y":-7.71},{"x":0.953,"y":-7.79},{"x":0.944,"y":-7.96},{"x":0.950,"y":-8.13},{"x":0.936,"y":-8.30},{"x":0.948,"y":-8.49},{"x":0.955,"y":-8.69},{"x":0.941,"y":-8.92},{"x":0.947,"y":-9.17},
{"x":0.979,"y":-7.81},{"x":0.969,"y":-7.94},{"x":0.984,"y":-8.12},{"x":0.973,"y":-8.29},{"x":0.981,"y":-8.48},{"x":0.967,"y":-8.67},{"x":0.976,"y":-8.89},{"x":0.982,"y":-9.12},{"x":0.970,"y":-9.39},
{"x":1.000,"y":-7.83},{"x":1.013,"y":-7.91},{"x":1.004,"y":-8.08},{"x":1.010,"y":-8.26},{"x":0.996,"y":-8.43},{"x":1.008,"y":-8.63},{"x":1.015,"y":-8.84},{"x":1.001,"y":-9.08},{"x":1.007,"y":-9.33},
{"x":1.039,"y":-7.92},{"x":1.029,"y":-8.06},{"x":1.044,"y":-8.24},{"x":1.033,"y":-8.41},{"x":1.041,"y":-8.61},{"x":1.027,"y":-8.81},{"x":1.036,"y":-9.02},{"x":1.042,"y":-9.26},{"x":1.030,"y":-9.54},
{"x":1.060,"y":-7.94},{"x":1.073,"y":-8.02},{"x":1.064,"y":-8.20},{"x":1.070,"y":-8.37},{"x":1.056,"y":-8.55},{"x":1.068,"y":-8.75},{"x":1.075,"y":-8.97},{"x":1.061,"y":-9.21},{"x":1.067,"y":-9.46},
{"x":1.099,"y":-8.03},{"x":1.089,"y":-8.17},{"x":1.104,"y":-8.35},{"x":1.093,"y":-8.53},{"x":1.101,"y":-8.73},{"x":1.087,"y":-8.93},{"x":1.096,"y":-9.15},{"x":1.102,"y":-9.39},{"x":1.090,"y":-9.67},
{"x":1.120,"y":-8.04},{"x":1.133,"y":-8.12},{"x":1.124,"y":-8.30},{"x":1.130,"y":-8.49},{"x":1.116,"y":-8.67},{"x":1.128,"y":-8.87},{"x":1.135,"y":-9.09},{"x":1.121,"y":-9.33},{"x":1.127,"y":-9.59},
{"x":1.159,"y":-8.13},{"x":1.149,"y":-8.28},{"x":1.164,"y":-8.46},{"x":1.153,"y":-8.64},{"x":1.161,"y":-8.84},{"x":1.147,"y":-9.05},{"x":1.156,"y":-9.27},{"x":1.162,"y":-9.51},{"x":1.150,"y":-9.80},
{"x":1.180,"y":-8.14},{"x":1.193,"y":-8.23},{"x":1.184,"y":-8.41},{"x":1.190,"y":-8.59},{"x":1.176,"y":-8.78},{"x":1.188,"y":-8.98},{"x":1.195,"y":-9.21},{"x":1.181,"y":-9.45},{"x":1.187,"y":-9.72},
{"x":1.219,"y":-8.24},{"x":1.209,"y":-8.39},{"x":1.224,"y":-8.57},{"x":1.213,"y":-8.76},{"x":1.221,"y":-8.96},{"x":1.207,"y":-9.17},{"x":1.216,"y":-9.39},{"x":1.222,"y":-9.64},{"x":1.210,"y":-9.93},
{"x":1.240,"y":-8.26},{"x":1.253,"y":-8.34},{"x":1.244,"y":-8.53},{"x":1.250,"y":-8.72},{"x":1.236,"y":-8.90},{"x":1.248,"y":-9.11},{"x":1.255,"y":-9.34},{"x":1.241,"y":-9.59},{"x":1.247,"y":-9.86},
{"x":1.279,"y":-8.36},{"x":1.269,"y":-8.51},{"x":1.284,"y":-8.70},{"x":1.273,"y":-8.89},{"x":1.281,"y":-9.09},{"x":1.267,"y":-9.30},{"x":1.276,"y":-9.53},{"x":1.282,"y":-9.78},{"x":1.270,"y":-10.07},
{"x":1.300,"y":-8.39},{"x":1.313,"y":-8.47},{"x":1.304,"y":-8.66},{"x":1.310,"y":-8.85},{"x":1.296,"y":-9.04},{"x":1.308,"y":-9.25},{"x":1.315,"y":-9.48},{"x":1.301,"y":-9.73},{"x":1.307,"y":-10.00},
{"x":1.339,"y":-8.50},{"x":1.329,"y":-8.65},{"x":1.344,"y":-8.84},{"x":1.333,"y":-9.03},{"x":1.341,"y":-9.24},{"x":1.327,"y":-9.45},{"x":1.336,"y":-9.68},{"x":1.342,"y":-9.93},{"x":1.330,"y":-10.22},
{"x":1.360,"y":-8.53},{"x":1.373,"y":-8.62},{"x":1.364,"y":-8.81},{"x":1.370,"y":-9.00},{"x":1.356,"y":-9.18},{"x":1.368,"y":-9.39},{"x":1.375,"y":-9.63},{"x":1.361,"y":-9.88},{"x":1.367,"y":-10.15},
{"x":1.399,"y":-8.65},{"x":1.389,"y":-8.80},{"x":1.404,"y":-8.99},{"x":1.393,"y":-9.17},{"x":1.401,"y":-9.39},{"x":1.387,"y":-9.60},{"x":1.396,"y":-9.83},{"x":1.402,"y":-10.08},{"x":1.390,"y":-10.37},
{"x":1.420,"y":-8.67},{"x":1.433,"y":-8.76},{"x":1.424,"y":-8.95},{"x":1.430,"y":-9.14},{"x":1.416,"y":-9.33},{"x":1.428,"y":-9.54},{"x":1.435,"y":-9.77},{"x":1.421,"y":-10.03},{"x":1.427,"y":-10.30},
{"x":1.459,"y":-8.77},{"x":1.449,"y":-8.92},{"x":1.464,"y":-9.12},{"x":1.453,"y":-9.31},{"x":1.461,"y":-9.53},{"x":1.447,"y":-9.74},{"x":1.456,"y":-9.98},{"x":1.462,"y":-10.23},{"x":1.450,"y":-10.53},
{"x":1.480,"y":-8.79},{"x":1.493,"y":-8.88},{"x":1.484,"y":-9.07},{"x":1.490,"y":-9.27},{"x":1.476,"y":-9.46},{"x":1.488,"y":-9.68},{"x":1.495,"y":-9.92},{"x":1.481,"y":-10.18},{"x":1.487,"y":-10.46},
{"x":1.519,"y":-8.90},{"x":1.509,"y":-9.05},{"x":1.524,"y":-9.24},{"x":1.513,"y":-9.44},{"x":1.521,"y":-9.65},{"x":1.507,"y":-9.87},{"x":1.516,"y":-10.11},{"x":1.522,"y":-10.37},{"x":1.510,"y":-10.67},
{"x":1.540,"y":-8.92},{"x":1.553,"y":-9.01},{"x":1.544,"y":-9.20},{"x":1.550,"y":-9.39},{"x":1.536,"y":-9.58},{"x":1.548,"y":-9.79},{"x":1.555,"y":-10.02},{"x":1.541,"y":-10.27},{"x":1.547,"y":-10.55},
{"x":1.579,"y":-9.03},{"x":1.569,"y":-9.17},{"x":1.584,"y":-9.36},{"x":1.573,"y":-9.54},{"x":1.581,"y":-9.75},{"x":1.567,"y":-9.96},{"x":1.576,"y":-10.19},{"x":1.582,"y":-10.43},{"x":1.570,"y":-10.72},
{"x":1.600,"y":-9.05},{"x":1.613,"y":-9.13},{"x":1.604,"y":-9.31},{"x":1.610,"y":-9.49},{"x":1.596,"y":-9.68},{"x":1.608,"y":-9.88},{"x":1.615,"y":-10.10},{"x":1.601,"y":-10.34},{"x":1.607,"y":-10.61},
{"x":1.639,"y":-9.15},{"x":1.629,"y":-9.29},{"x":1.644,"y":-9.47},{"x":1.633,"y":-9.64},{"x":1.641,"y":-9.84},{"x":1.627,"y":-10.04},{"x":1.636,"y":-10.25},{"x":1.642,"y":-10.49},{"x":1.630,"y":-10.77},
{"x":1.660,"y":-9.17},{"x":1.673,"y":-9.25},{"x":1.664,"y":-9.42},{"x":1.670,"y":-9.59},{"x":1.656,"y":-9.76},{"x":1.668,"y":-9.96},{"x":1.675,"y":-10.17},{"x":1.661,"y":-10.40},{"x":1.667,"y":-10.65},
{"x":1.699,"y":-9.27},{"x":1.689,"y":-9.40},{"x":1.704,"y":-9.56},{"x":1.693,"y":-9.73},{"x":1.701,"y":-9.92},{"x":1.687,"y":-10.10},{"x":1.696,"y":-10.31},{"x":1.702,"y":-10.53},{"x":1.690,"y":-10.79},
{"x":1.720,"y":-9.30},{"x":1.733,"y":-9.37},{"x":1.724,"y":-9.52},{"x":1.730,"y":-9.68},{"x":1.716,"y":-9.84},{"x":1.728,"y":-10.02},{"x":1.735,"y":-10.21},{"x":1.721,"y":-10.42},{"x":1.727,"y":-10.65},
{"x":1.759,"y":-9.40},{"x":1.749,"y":-9.51},{"x":1.764,"y":-9.66},{"x":1.753,"y":-9.80},{"x":1.761,"y":-9.97},{"x":1.747,"y":-10.13},{"x":1.756,"y":-10.31},{"x":1.762,"y":-10.51},{"x":1.750,"y":-10.74},
{"x":1.780,"y":-9.43},{"x":1.793,"y":-9.49},{"x":1.784,"y":-9.63},{"x":1.790,"y":-9.76},{"x":1.776,"y":-9.90},{"x":1.788,"y":-10.05},{"x":1.795,"y":-10.22},{"x":1.781,"y":-10.40},{"x":1.787,"y":-10.59},
{"x":1.819,"y":-9.54},{"x":1.809,"y":-9.63},{"x":1.824,"y":-9.75},{"x":1.813,"y":-9.88},{"x":1.821,"y":-10.01},{"x":1.807,"y":-10.15},{"x":1.816,"y":-10.30},{"x":1.822,"y":-10.46},{"x":1.810,"y":-10.65},
{"x":1.840,"y":-9.60},{"x":1.853,"y":-9.64},{"x":1.844,"y":-9.75},{"x":1.850,"y":-9.86},{"x":1.836,"y":-9.96},{"x":1.848,"y":-10.08},{"x":1.855,"y":-10.21},{"x":1.841,"y":-10.35},{"x":1.847,"y":-10.51},
{"x":1.879,"y":-9.71},{"x":1.869,"y":-9.78},{"x":1.884,"y":-9.87},{"x":1.873,"y":-9.96},{"x":1.881,"y":-10.06},{"x":1.867,"y":-10.16},{"x":1.876,"y":-10.27},{"x":1.882,"y":-10.39},{"x":1.870,"y":-10.53},
{"x":1.895,"y":-9.77},{"x":1.908,"y":-9.80},{"x":1.899,"y":-9.87},{"x":1.905,"y":-9.95},{"x":1.891,"y":-10.02},{"x":1.903,"y":-10.10},{"x":1.910,"y":-10.19},{"x":1.896,"y":-10.29},{"x":1.902,"y":-10.40}
]},
"layer":[
{"data":{"name":"seesawFill"},"mark":{"type":"line","fill":"#f2f2f2","stroke":"#f2f2f2","strokeWidth":0},
 "encoding":{"x":{"field":"x","type":"quantitative","scale":{"domain":[-0.7,2.0],"nice":false,"zero":false},"axis":null},"y":{"field":"y","type":"quantitative","scale":{"domain":[-12.2,-3.0],"nice":false,"zero":false},"axis":null},"order":{"field":"i"}}},
{"data":{"name":"gray"},"mark":{"type":"line","fill":"#d9d9d9","stroke":"#d9d9d9","strokeWidth":0},
 "encoding":{"x":{"field":"x","type":"quantitative","scale":{"domain":[-0.7,2.0],"nice":false,"zero":false},"axis":null},"y":{"field":"y","type":"quantitative","scale":{"domain":[-12.2,-3.0],"nice":false,"zero":false},"axis":null},"order":{"field":"i"}}},
{"data":{"name":"bbn"},"mark":{"type":"line","fill":"#daa520","fillOpacity":0.16,"stroke":"#daa520","strokeWidth":0},
 "encoding":{"x":{"field":"x","type":"quantitative","scale":{"domain":[-0.7,2.0],"nice":false,"zero":false},"axis":null},"y":{"field":"y","type":"quantitative","scale":{"domain":[-12.2,-3.0],"nice":false,"zero":false},"axis":null},"order":{"field":"i"}}},
{"data":{"name":"seesawLine"},"mark":{"type":"line","color":"#808080","strokeWidth":1.6,"clip":true},
 "encoding":{"x":{"field":"x","type":"quantitative","scale":{"domain":[-0.7,2.0],"nice":false,"zero":false},"axis":{"orient":"top","values":[-0.5,0,0.5,1,1.5,2],"labels":false,"title":null}},"y":{"field":"y","type":"quantitative","scale":{"domain":[-12.2,-3.0],"nice":false,"zero":false},"axis":{"orient":"right","values":[-12,-10,-8,-6,-4],"labels":false,"title":null}},"order":{"field":"i"}}},
{"data":{"values":[{"x":0.005,"y":-3.904,"t":"Direct Searches in"}]},"mark":{"type":"text","font":"Open Sans","fontSize":27,"color":"#000000","align":"left","baseline":"alphabetic"},
 "encoding":{"x":{"field":"x","type":"quantitative","scale":{"domain":[-0.7,2.0],"nice":false,"zero":false},"axis":null},"y":{"field":"y","type":"quantitative","scale":{"domain":[-12.2,-3.0],"nice":false,"zero":false},"axis":null},"text":{"field":"t"}}},
{"data":{"values":[{"x":0.828,"y":-3.904,"t":"|Uₑ²|"}]},"mark":{"type":"text","font":"Liberation Serif","fontStyle":"italic","fontSize":30,"color":"#000000","align":"left","baseline":"alphabetic"},
 "encoding":{"x":{"field":"x","type":"quantitative","scale":{"domain":[-0.7,2.0],"nice":false,"zero":false},"axis":null},"y":{"field":"y","type":"quantitative","scale":{"domain":[-12.2,-3.0],"nice":false,"zero":false},"axis":null},"text":{"field":"t"}}},
{"data":{"values":[{"x":1.70,"y":-4.012,"t":"NH"}]},"mark":{"type":"text","font":"Liberation Sans","fontWeight":"bold","fontSize":35,"color":"#000000","align":"center","baseline":"alphabetic"},
 "encoding":{"x":{"field":"x","type":"quantitative","scale":{"domain":[-0.7,2.0],"nice":false,"zero":false},"axis":null},"y":{"field":"y","type":"quantitative","scale":{"domain":[-12.2,-3.0],"nice":false,"zero":false},"axis":null},"text":{"field":"t"}}},
{"data":{"values":[{"x":-0.396,"y":-9.615,"t":"BBN"}]},"mark":{"type":"text","font":"Open Sans","fontSize":29,"color":"#daa520","align":"center","baseline":"alphabetic"},
 "encoding":{"x":{"field":"x","type":"quantitative","scale":{"domain":[-0.7,2.0],"nice":false,"zero":false},"axis":null},"y":{"field":"y","type":"quantitative","scale":{"domain":[-12.2,-3.0],"nice":false,"zero":false},"axis":null},"text":{"field":"t"}}},
{"data":{"values":[{"x":0.214,"y":-10.862,"t":"See-Saw Limit"}]},"mark":{"type":"text","font":"Open Sans","fontSize":26,"color":"#000000","align":"center","baseline":"middle","angle":11},
 "encoding":{"x":{"field":"x","type":"quantitative","scale":{"domain":[-0.7,2.0],"nice":false,"zero":false},"axis":null},"y":{"field":"y","type":"quantitative","scale":{"domain":[-12.2,-3.0],"nice":false,"zero":false},"axis":null},"text":{"field":"t"}}},
{"data":{"name":"pts"},"mark":{"type":"point","shape":"circle","filled":false,"size":42,"strokeWidth":2,"color":"#1f77b4","opacity":1},
 "encoding":{"x":{"field":"x","type":"quantitative","scale":{"domain":[-0.7,2.0],"nice":false,"zero":false},"axis":{"orient":"bottom","values":[-0.5,0,0.5,1,1.5,2],"format":".1f","title":"log₁₀(M₁/GeV)","titleFontSize":35,"labelPadding":16,"titlePadding":7}},"y":{"field":"y","type":"quantitative","scale":{"domain":[-12.2,-3.0],"nice":false,"zero":false},"axis":{"orient":"left","values":[-12,-10,-8,-6,-4],"format":"d","title":"log₁₀(|U²|)","titleFontSize":33,"labelPadding":16,"titlePadding":13}}}},
{"data":{"name":"gdot"},"mark":{"type":"line","color":"#2ca02c","strokeWidth":3.3,"strokeDash":[3.3,5.7],"clip":true},
 "encoding":{"x":{"field":"x","type":"quantitative","scale":{"domain":[-0.7,2.0],"nice":false,"zero":false},"axis":null},"y":{"field":"y","type":"quantitative","scale":{"domain":[-12.2,-3.0],"nice":false,"zero":false},"axis":null},"order":{"field":"i"}}},
{"data":{"name":"gdash"},"mark":{"type":"line","color":"#2ca02c","strokeWidth":3,"strokeDash":[16,7],"clip":true},
 "encoding":{"x":{"field":"x","type":"quantitative","scale":{"domain":[-0.7,2.0],"nice":false,"zero":false},"axis":null},"y":{"field":"y","type":"quantitative","scale":{"domain":[-12.2,-3.0],"nice":false,"zero":false},"axis":null},"order":{"field":"i"}}},
{"data":{"name":"gsolid"},"mark":{"type":"line","color":"#2ca02c","strokeWidth":2.6,"clip":true},
 "encoding":{"x":{"field":"x","type":"quantitative","scale":{"domain":[-0.7,2.0],"nice":false,"zero":false},"axis":null},"y":{"field":"y","type":"quantitative","scale":{"domain":[-12.2,-3.0],"nice":false,"zero":false},"axis":null},"order":{"field":"i"}}},
{"data":{"name":"bdash"},"mark":{"type":"line","color":"#000000","strokeWidth":2.2,"strokeDash":[8,5],"clip":true},
 "encoding":{"x":{"field":"x","type":"quantitative","scale":{"domain":[-0.7,2.0],"nice":false,"zero":false},"axis":null},"y":{"field":"y","type":"quantitative","scale":{"domain":[-12.2,-3.0],"nice":false,"zero":false},"axis":null},"order":{"field":"i"}}},
{"data":{"name":"bsolid"},"mark":{"type":"line","color":"#000000","strokeWidth":3.5,"clip":true},
 "encoding":{"x":{"field":"x","type":"quantitative","scale":{"domain":[-0.7,2.0],"nice":false,"zero":false},"axis":null},"y":{"field":"y","type":"quantitative","scale":{"domain":[-12.2,-3.0],"nice":false,"zero":false},"axis":null},"order":{"field":"i"}}}
],
"resolve":{"axis":{"x":"independent","y":"independent"}}
}
